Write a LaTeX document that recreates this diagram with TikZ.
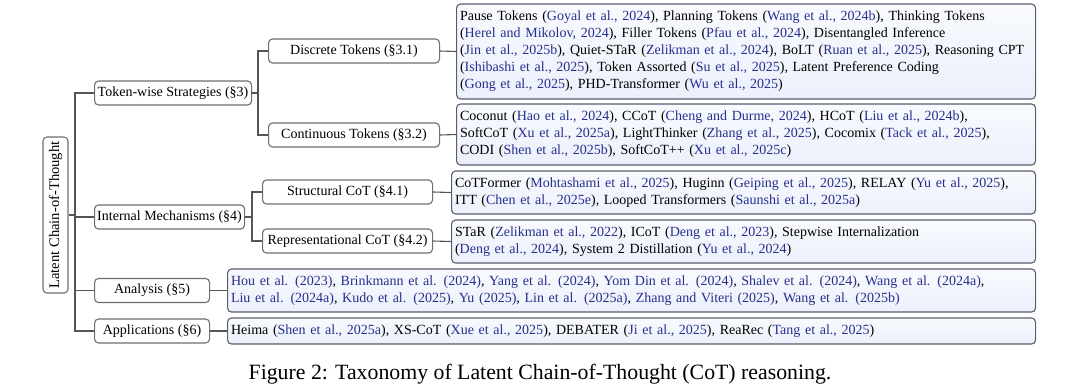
\documentclass[tikz,border=0pt]{standalone}
\usepackage{fontspec}
\setmainfont{Liberation Serif}
\definecolor{citecol}{RGB}{38,48,140}
\definecolor{edgecol}{RGB}{85,85,85}
\definecolor{innerline}{RGB}{110,110,115}
\definecolor{leafline}{RGB}{88,94,110}
\definecolor{leaftop}{RGB}{248,250,254}
\definecolor{leafbot}{RGB}{236,240,251}
\newcommand\cp[1]{(\textcolor{citecol}{#1})}
\newcommand\ct[1]{\textcolor{citecol}{#1}}
\tikzset{
  innerbox/.style={draw=innerline, line width=1.1pt, rounded corners=4pt, fill=white,
    inner sep=0pt, minimum height=24pt, anchor=west, font=\fontsize{14}{16}\selectfont},
  rootbox/.style={draw=innerline, line width=1.1pt, rounded corners=4pt, fill=white,
    inner sep=0pt, minimum width=156pt, minimum height=25pt, rotate=90, font=\fontsize{14.6}{16}\selectfont},
  leafbox/.style={draw=leafline, line width=1.1pt, rounded corners=4pt, top color=leaftop, bottom color=leafbot,
    inner xsep=3.5pt, inner ysep=0pt, align=left, anchor=west, font=\fontsize{14}{17}\selectfont},
  conn/.style={draw=edgecol, line width=1.1pt},
}
\begin{document}
\begin{tikzpicture}[x=1pt,y=-1pt]
\useasboundingbox (0,0) rectangle (1080,389);
% root
\node[rootbox] (root) at (55.5,215) {Latent Chain-of-Thought};
% level 1
\node[innerbox, minimum width=157pt] (tws) at (94,93) {Token-wise Strategies (\S3)};
\node[innerbox, minimum width=150pt] (im) at (94,217) {Internal Mechanisms (\S4)};
\node[innerbox, minimum width=115pt] (an) at (94,290.5) {Analysis (\S5)};
\node[innerbox, minimum width=115pt] (ap) at (94,331) {Applications (\S6)};
% level 2
\node[innerbox, minimum width=171pt] (dt) at (268,51) {Discrete Tokens (\S3.1)};
\node[innerbox, minimum width=171pt] (ctk) at (268,135) {Continuous Tokens (\S3.2)};
\node[innerbox, minimum width=170pt] (sc) at (262,192) {Structural CoT (\S4.1)};
\node[innerbox, minimum width=170pt] (rc) at (262,241) {Representational CoT (\S4.2)};
% leaves
\node[leafbox, text width=572pt, minimum height=95pt] (ldt) at (456,51.5) {%
Pause Tokens \cp{Goyal et al., 2024}, Planning Tokens \cp{Wang et al., 2024b}, Thinking Tokens\\
\cp{Herel and Mikolov, 2024}, Filler Tokens \cp{Pfau et al., 2024}, Disentangled Inference\\
\cp{Jin et al., 2025b}, Quiet-STaR \cp{Zelikman et al., 2024}, BoLT \cp{Ruan et al., 2025}, Reasoning CPT\\
\cp{Ishibashi et al., 2025}, Token Assorted \cp{Su et al., 2025}, Latent Preference Coding\\
\cp{Gong et al., 2025}, PHD-Transformer \cp{Wu et al., 2025}};
\node[leafbox, text width=572pt, minimum height=61pt] (lct) at (456,134.5) {%
Coconut \cp{Hao et al., 2024}, CCoT \cp{Cheng and Durme, 2024}, HCoT \cp{Liu et al., 2024b},\\
SoftCoT \cp{Xu et al., 2025a}, LightThinker \cp{Zhang et al., 2025}, Cocomix \cp{Tack et al., 2025},\\
CODI \cp{Shen et al., 2025b}, SoftCoT++ \cp{Xu et al., 2025c}};
\node[leafbox, text width=577pt, minimum height=43pt] (lsc) at (451,192.5) {%
CoTFormer \cp{Mohtashami et al., 2025}, Huginn \cp{Geiping et al., 2025}, RELAY \cp{Yu et al., 2025},\\
ITT \cp{Chen et al., 2025e}, Looped Transformers \cp{Saunshi et al., 2025a}};
\node[leafbox, text width=577pt, minimum height=43pt] (lrc) at (451,241.5) {%
STaR \cp{Zelikman et al., 2022}, ICoT \cp{Deng et al., 2023}, Stepwise Internalization\\
\cp{Deng et al., 2024}, System 2 Distillation \cp{Yu et al., 2024}};
\node[leafbox, text width=801pt, minimum height=43pt] (lan) at (227,290.5) {%
\ct{Hou et al. (2023)}, \ct{Brinkmann et al. (2024)}, \ct{Yang et al. (2024)}, \ct{Yom Din et al. (2024)}, \ct{Shalev et al. (2024)}, \ct{Wang et al. (2024a)},\\
\ct{Liu et al. (2024a)}, \ct{Kudo et al. (2025)}, \ct{Yu (2025)}, \ct{Lin et al. (2025a)}, \ct{Zhang and Viteri (2025)}, \ct{Wang et al. (2025b)}};
\node[leafbox, text width=801pt, minimum height=26pt] (lap) at (227,331) {%
Heima \cp{Shen et al., 2025a}, XS-CoT \cp{Xue et al., 2025}, DEBATER \cp{Ji et al., 2025}, ReaRec \cp{Tang et al., 2025}};
% trunks
\coordinate (t0) at (75,215);
\coordinate (t1) at (258,93);
\coordinate (t2) at (252,217);
\draw[conn] (root.south) -- (t0);
\draw[conn] (t0) |- (tws.west);
\draw[conn] (t0) |- (im.west);
\draw[conn] (t0) |- (an.west);
\draw[conn] (t0) |- (ap.west);
\draw[conn] (tws.east) -- (t1);
\draw[conn] (t1) |- (dt.west);
\draw[conn] (t1) |- (ctk.west);
\draw[conn] (im.east) -- (t2);
\draw[conn] (t2) |- (sc.west);
\draw[conn] (t2) |- (rc.west);
\draw[conn] (dt.east) -- (ldt.west);
\draw[conn] (ctk.east) -- (lct.west);
\draw[conn] (sc.east) -- (lsc.west);
\draw[conn] (rc.east) -- (lrc.west);
\draw[conn] (an.east) -- (lan.west);
\draw[conn] (ap.east) -- (lap.west);
% caption
\node[font=\fontsize{21.8}{24}\selectfont, inner sep=0pt] (cap) at (540,374) {Figure 2: Taxonomy of Latent Chain-of-Thought (CoT) reasoning.};
\end{tikzpicture}
\end{document}
